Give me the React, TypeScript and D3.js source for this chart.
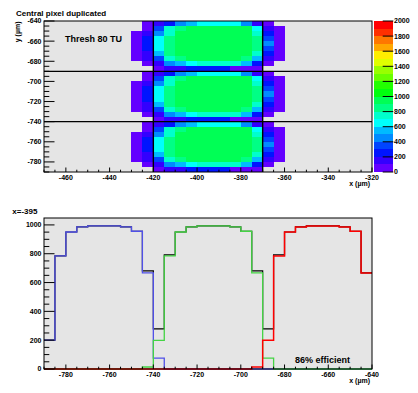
import React from "react";
import * as d3 from "d3";

// top panel: one pixel block (10x10 inner bins + 2 neighbour columns each side), drawn 3 times
const heatCols = [-430, -425, -420, -415, -410, -405, -400, -395, -390, -385, -380, -375, -370, -365];
const pixelTops = [-640, -690, -740];
const pixelRows: (number | null)[][] = [
  [null, 60, 120, 230, 430, 540, 650, 667, 660, 640, 440, 130, 60, null],
  [null, 70, 340, 760, 880, 950, 955, 956, 955, 950, 930, 660, 150, 40],
  [50, 140, 440, 780, 920, 980, 984, 986, 984, 980, 960, 750, 240, 60],
  [50, 250, 640, 830, 960, 990, 993, 993, 993, 990, 970, 850, 340, 60],
  [50, 260, 650, 840, 965, 993, 993, 993, 993, 993, 975, 860, 430, 60],
  [50, 250, 630, 840, 965, 993, 993, 993, 993, 993, 975, 860, 330, 60],
  [50, 170, 540, 820, 955, 986, 986, 986, 986, 986, 960, 760, 230, 50],
  [40, 130, 340, 740, 880, 951, 951, 951, 951, 951, 850, 550, 140, 40],
  [null, 50, 150, 450, 590, 680, 780, 785, 780, 720, 540, 230, 50, null],
  [null, null, 40, 120, 150, 210, 210, 200, 210, 90, 50, 40, null, null],
];
const zTicks = [0, 200, 400, 600, 800, 1000, 1200, 1400, 1600, 1800, 2000];
const zLevels = [0, 100, 200, 300, 400, 500, 600, 700, 800, 900, 1000, 1100, 1200, 1300, 1400, 1500, 1600, 1700, 1800, 1900];

// bottom panel: slice at x = -395
const bins = [
  -790, -785, -780, -775, -770, -765, -760, -755, -750, -745,
  -740, -735, -730, -725, -720, -715, -710, -705, -700, -695,
  -690, -685, -680, -675, -670, -665, -660, -655, -650, -645,
];
const effAll = [
  200, 785, 951, 986, 993, 993, 993, 986, 956, 681,
  278, 792, 951, 986, 993, 993, 993, 986, 956, 681,
  278, 792, 951, 986, 993, 993, 993, 986, 956, 667,
];
const effBlue = [
  200, 785, 951, 986, 993, 993, 993, 986, 956, 667,
  76, 0, 0, 0, 0, 0, 0, 0, 0, 0,
  0, 0, 0, 0, 0, 0, 0, 0, 0, 0,
];
const effGreen = [
  0, 0, 0, 0, 0, 0, 0, 0, 0, 14,
  199, 785, 951, 986, 993, 993, 993, 986, 956, 667,
  76, 0, 0, 0, 0, 0, 0, 0, 0, 0,
];
const effRed = [
  0, 0, 0, 0, 0, 0, 0, 0, 0, 0,
  0, 0, 0, 0, 0, 0, 0, 0, 0, 14,
  199, 785, 951, 986, 993, 993, 993, 986, 956, 667,
];

const FONT = "'Liberation Sans', Arial, Helvetica, sans-serif";
const FRAME_BG = "#e5e5e5";

// ROOT "pretty palette" with 20 contours
function rootColor(v: number) {
  const k = Math.max(0, Math.min(19, Math.floor(v / 100)));
  const p = Math.floor((k + 0.99) * 2.5);
  const hue = 280 - (p + 1) * 5.6;
  return d3.hsl(hue, 1, 0.5).formatHex();
}

function App() {
  // top panel scales
  const xT = d3.scaleLinear().domain([-470, -320]).range([44, 372]);
  const yT = d3.scaleLinear().domain([-790, -640]).range([172, 21]);
  const zS = d3.scaleLinear().domain([0, 2000]).range([172, 21]);

  // bottom panel scales
  const xB = d3.scaleLinear().domain([-790, -640]).range([44, 372]);
  const yB = d3.scaleLinear().domain([0, 1048]).range([369, 218]);

  const step = d3
    .line<[number, number]>()
    .x((d) => xB(d[0]))
    .y((d) => yB(d[1]))
    .curve(d3.curveStepAfter);
  const histPath = (vals: number[]) => {
    const pts: [number, number][] = bins.map((b, i) => [b, vals[i]]);
    pts.push([bins[bins.length - 1] + 5, vals[vals.length - 1]]);
    return step(pts) || "";
  };

  const cells: JSX.Element[] = [];
  pixelTops.forEach((top, pi) => {
    pixelRows.forEach((row, ri) => {
      row.forEach((v, ci) => {
        if (v === null) return;
        const x0 = xT(heatCols[ci]);
        const x1 = xT(heatCols[ci] + 5);
        const y0 = yT(top - 5 * ri);
        const y1 = yT(top - 5 * (ri + 1));
        cells.push(
          <rect key={`${pi}-${ri}-${ci}`} x={x0} y={y0} width={x1 - x0} height={y1 - y0} fill={rootColor(v)} />
        );
      });
    });
  });

  const lbl = { fontFamily: FONT, fontWeight: 700, fontSize: 7 } as const;

  const topXTicks = d3.range(-470, -319, 5);
  const topYTicks = d3.range(-790, -639, 5);
  const botXTicks = d3.range(-790, -639, 5);
  const botYTicks = d3.range(0, 1001, 50);

  return (
    <svg width={418} height={393} style={{ position: "absolute", left: 0, top: 0, background: "#fff" }}>
      {/* ---------- top panel ---------- */}
      <text x={16} y={16} fontFamily={FONT} fontWeight={700} fontSize={8}>Central pixel duplicated</text>
      <rect x={44} y={21} width={328} height={151} fill={FRAME_BG} />
      <g shapeRendering="crispEdges">{cells}</g>
      <g stroke="#000" strokeWidth={1.4}>
        {[-690, -740].map((v) => (
          <line key={v} x1={44} x2={372} y1={yT(v)} y2={yT(v)} />
        ))}
        {[-420, -370].map((v) => (
          <line key={v} x1={xT(v)} x2={xT(v)} y1={21} y2={172} />
        ))}
      </g>
      <rect x={44} y={21} width={328} height={151} fill="none" stroke="#000" strokeWidth={1} />
      <g stroke="#000" strokeWidth={1}>
        {topYTicks.map((v) => (
          <line key={v} x1={44} x2={44 + (v % 20 === 0 ? 10.5 : 5.3)} y1={yT(v)} y2={yT(v)} />
        ))}
        {topXTicks.map((v) => (
          <line key={v} x1={xT(v)} x2={xT(v)} y1={172} y2={172 - (v % 20 === 0 ? 4.5 : 2.3)} />
        ))}
      </g>
      {topYTicks.filter((v) => v % 20 === 0).map((v) => (
        <text key={v} x={41.5} y={yT(v)} dy="0.35em" textAnchor="end" {...lbl}>{v}</text>
      ))}
      {topXTicks.filter((v) => v % 20 === 0).map((v) => (
        <text key={v} x={xT(v)} y={179.5} textAnchor="middle" {...lbl}>{v}</text>
      ))}
      <text x={370} y={186} textAnchor="end" {...lbl}>x (µm)</text>
      <text transform="translate(20,21.5) rotate(-90)" textAnchor="end" {...lbl}>y (µm)</text>
      <text x={65} y={41.5} fontFamily={FONT} fontWeight={700} fontSize={9}>Thresh 80 TU</text>

      {/* colour bar */}
      <g shapeRendering="crispEdges">
        {zLevels.map((z) => (
          <rect key={z} x={374} y={zS(z + 100)} width={19.3} height={zS(z) - zS(z + 100)} fill={rootColor(z)} />
        ))}
      </g>
      <g stroke="#000" strokeWidth={1}>
        {zTicks.map((z) => (
          <line key={z} x1={382.7} x2={393.3} y1={zS(z)} y2={zS(z)} />
        ))}
      </g>
      {zTicks.map((z) => (
        <text key={z} x={394} y={zS(z)} dy="0.35em" {...lbl}>{z}</text>
      ))}

      {/* ---------- bottom panel ---------- */}
      <text x={12.3} y={213.5} fontFamily={FONT} fontWeight={700} fontSize={8}>x=-395</text>
      <rect x={44} y={218} width={328} height={151} fill={FRAME_BG} />
      <g fill="none">
        <path d={histPath(effAll)} stroke="#000" strokeWidth={1.2} />
        <path d={histPath(effBlue)} stroke="#5050e8" strokeWidth={1.3} />
        <path d={histPath(effGreen)} stroke="#44d444" strokeWidth={1.3} />
        <path d={histPath(effRed)} stroke="#ff0000" strokeWidth={1.5} />
      </g>
      <rect x={44} y={218} width={328} height={151} fill="none" stroke="#000" strokeWidth={1} />
      <g stroke="#000" strokeWidth={1}>
        {botYTicks.map((v) => (
          <line key={v} x1={44} x2={44 + (v % 200 === 0 ? 10.5 : 5.3)} y1={yB(v)} y2={yB(v)} />
        ))}
        {botXTicks.map((v) => (
          <line key={v} x1={xB(v)} x2={xB(v)} y1={369} y2={369 - (v % 20 === 0 ? 4.5 : 2.3)} />
        ))}
      </g>
      {botYTicks.filter((v) => v % 200 === 0).map((v) => (
        <text key={v} x={41.5} y={yB(v)} dy="0.35em" textAnchor="end" {...lbl}>{v}</text>
      ))}
      {botXTicks.filter((v) => v % 20 === 0).map((v) => (
        <text key={v} x={xB(v)} y={376.5} textAnchor="middle" {...lbl}>{v}</text>
      ))}
      <text x={370} y={383} textAnchor="end" {...lbl}>x (µm)</text>
      <text x={295} y={362.5} fontFamily={FONT} fontWeight={700} fontSize={9}>86% efficient</text>
    </svg>
  );
}

export default App;
